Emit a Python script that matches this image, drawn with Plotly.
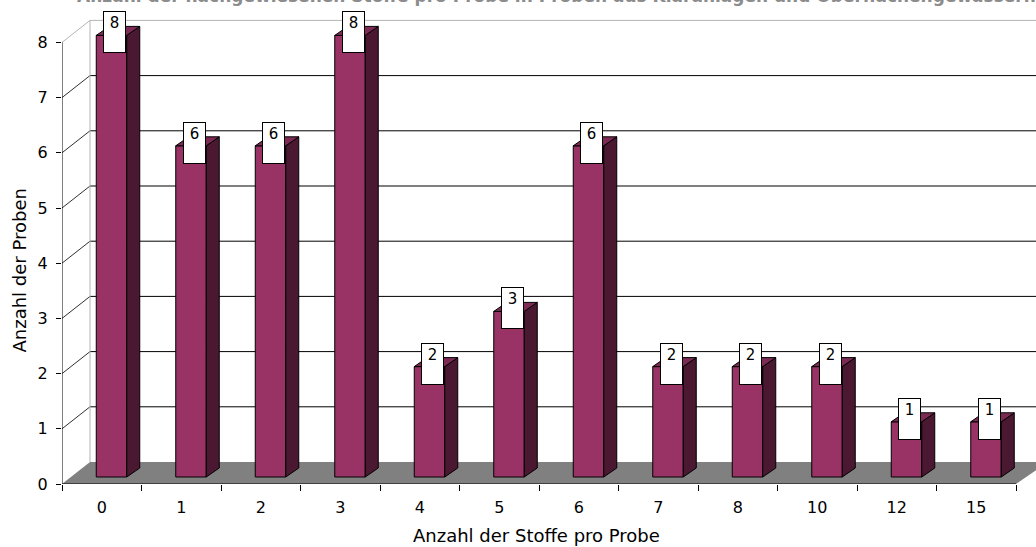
import plotly.graph_objects as go

# Häufigkeit: Anzahl der Proben je Anzahl nachgewiesener Stoffe
stoffe_pro_probe = ["0", "1", "2", "3", "4", "5", "6", "7", "8", "10", "12", "15"]
anzahl_proben = [8, 6, 6, 8, 2, 3, 6, 2, 2, 2, 1, 1]
y_tick_values = [0, 1, 2, 3, 4, 5, 6, 7, 8]

TITLE = "Anzahl der nachgewiesenen Stoffe pro Probe in Proben aus Kläranlagen und Oberflächengewässern"
X_TITLE = "Anzahl der Stoffe pro Probe"
Y_TITLE = "Anzahl der Proben"

W, H = 1036, 547
M_L, M_B = 62, 63
PX_X = 79.5   # pixels per category
PX_Y = 55.2   # pixels per unit on the value axis
X_MIN = -0.5
X_MAX = X_MIN + (W - M_L) / PX_X
Y_MAX = (H - M_B) / PX_Y
Y_TOP = y_tick_values[-1]


def dx(px):
    return px / PX_X


def dy(px):
    return px / PX_Y


FONT = "DejaVu Sans"
BAR_FRONT = "#993366"
BAR_SIDE = "#4a1830"
BAR_TOP = "#7d2a55"
FLOOR = "#808080"
WALL_EDGE = "#b4b4b4"

n = len(stoffe_pro_probe)
pos = list(range(n))

# depth offsets of the pseudo-3D look
bar_shift = dx(9.75)
bar_w = dx(30.5)
bar_base = dy(7)
side_dx, side_dy = dx(13), dy(9)
wall_dx, wall_dy = dx(28), dy(22)

shapes = []
# floor
x_end = X_MIN + n
shapes.append(dict(
    type="path", layer="below", line=dict(width=0), fillcolor=FLOOR,
    path=(f"M {X_MIN},0 L {x_end},0 L {x_end + wall_dx + dx(4)},{wall_dy} "
          f"L {X_MIN + wall_dx},{wall_dy} Z"),
))
# back wall gridlines and side-wall diagonals
for v in y_tick_values[1:]:
    col = WALL_EDGE if v == Y_TOP else "#000000"
    shapes.append(dict(type="line", layer="below", x0=X_MIN + wall_dx, x1=X_MAX + 1,
                       y0=v + wall_dy, y1=v + wall_dy, line=dict(color=col, width=1)))
    shapes.append(dict(type="line", layer="below", x0=X_MIN, x1=X_MIN + wall_dx,
                       y0=v, y1=v + wall_dy,
                       line=dict(color=WALL_EDGE if v == Y_TOP else "#303030", width=1)))
# back wall left edge
shapes.append(dict(type="line", layer="below", x0=X_MIN + wall_dx, x1=X_MIN + wall_dx,
                   y0=wall_dy, y1=Y_TOP + wall_dy, line=dict(color=WALL_EDGE, width=1)))
# front axis lines
shapes.append(dict(type="line", x0=X_MIN, x1=X_MIN, y0=0, y1=Y_TOP,
                   line=dict(color="black", width=1)))
shapes.append(dict(type="line", x0=X_MIN, x1=x_end, y0=0, y1=0,
                   line=dict(color="black", width=1)))

fig = go.Figure()

# front faces of the columns
fig.add_trace(go.Bar(
    x=[p + bar_shift for p in pos], y=anzahl_proben, base=bar_base, width=bar_w,
    marker=dict(color=BAR_FRONT, line=dict(color="black", width=1)),
    hoverinfo="skip", showlegend=False,
))

# side and top faces
side_x, side_y, top_x, top_y = [], [], [], []
for p, v in zip(pos, anzahl_proben):
    xl = p + bar_shift - bar_w / 2
    xr = p + bar_shift + bar_w / 2
    yb = bar_base
    yt = bar_base + v
    side_x += [xr, xr + side_dx, xr + side_dx, xr, xr, None]
    side_y += [yb, yb + side_dy, yt + side_dy, yt, yb, None]
    top_x += [xl, xr, xr + side_dx, xl + side_dx, xl, None]
    top_y += [yt, yt, yt + side_dy, yt + side_dy, yt, None]

fig.add_trace(go.Scatter(x=side_x, y=side_y, mode="lines", fill="toself",
                         fillcolor=BAR_SIDE, line=dict(color="black", width=1),
                         hoverinfo="skip", showlegend=False))
fig.add_trace(go.Scatter(x=top_x, y=top_y, mode="lines", fill="toself",
                         fillcolor=BAR_TOP, line=dict(color="black", width=1),
                         hoverinfo="skip", showlegend=False))

annotations = []
# value tags above the columns
for p, v in zip(pos, anzahl_proben):
    annotations.append(dict(
        x=p + dx(12.75), y=bar_base + v, xref="x", yref="y",
        text=str(v), showarrow=False, yanchor="top", xanchor="center", yshift=24,
        width=17, height=36, valign="top", align="center",
        bgcolor="white", bordercolor="black", borderwidth=1, borderpad=2,
        font=dict(family=FONT, size=15, color="black"),
    ))

span = W - M_L
annotations.append(dict(
    text=f"<b>{TITLE}</b>", xref="paper", yref="paper",
    x=(556 - M_L) / span, y=1, xanchor="center", yanchor="bottom", yshift=-8,
    showarrow=False, font=dict(family=FONT, size=17, color="#8c8c8c"),
))
annotations.append(dict(
    text=X_TITLE, xref="paper", yref="paper",
    x=(536.5 - M_L) / span, y=-(535 - (H - M_B)) / (H - M_B),
    xanchor="center", yanchor="middle", showarrow=False,
    font=dict(family=FONT, size=18, color="black"),
))
annotations.append(dict(
    text=Y_TITLE, xref="paper", yref="paper", textangle=-90,
    x=(18.5 - M_L) / span, y=((H - M_B) - 271) / (H - M_B),
    xanchor="center", yanchor="middle", showarrow=False,
    font=dict(family=FONT, size=18, color="black"),
))

fig.update_layout(
    width=W, height=H,
    margin=dict(l=M_L, r=0, t=0, b=M_B, pad=0),
    paper_bgcolor="white", plot_bgcolor="white",
    shapes=shapes, annotations=annotations, showlegend=False,
    xaxis=dict(
        range=[X_MIN, X_MAX], tickmode="array", tickvals=pos, ticktext=stoffe_pro_probe,
        ticks="", showgrid=False, zeroline=False, showline=False,
        ticklabelstandoff=12, automargin=False,
        tickfont=dict(family=FONT, size=16, color="black"),
        minor=dict(tickmode="array", tickvals=[X_MIN + i for i in range(n + 1)],
                   ticks="outside", ticklen=6, tickcolor="black", tickwidth=1,
                   showgrid=False),
        fixedrange=True,
    ),
    yaxis=dict(
        range=[0, Y_MAX], tickmode="array", tickvals=y_tick_values,
        ticks="outside", ticklen=5, tickcolor="black", tickwidth=1,
        showgrid=False, zeroline=False, showline=False,
        ticklabelstandoff=5, automargin=False,
        tickfont=dict(family=FONT, size=16, color="black"),
        fixedrange=True,
    ),
)

fig.write_html("out.html", config={"displayModeBar": False})
